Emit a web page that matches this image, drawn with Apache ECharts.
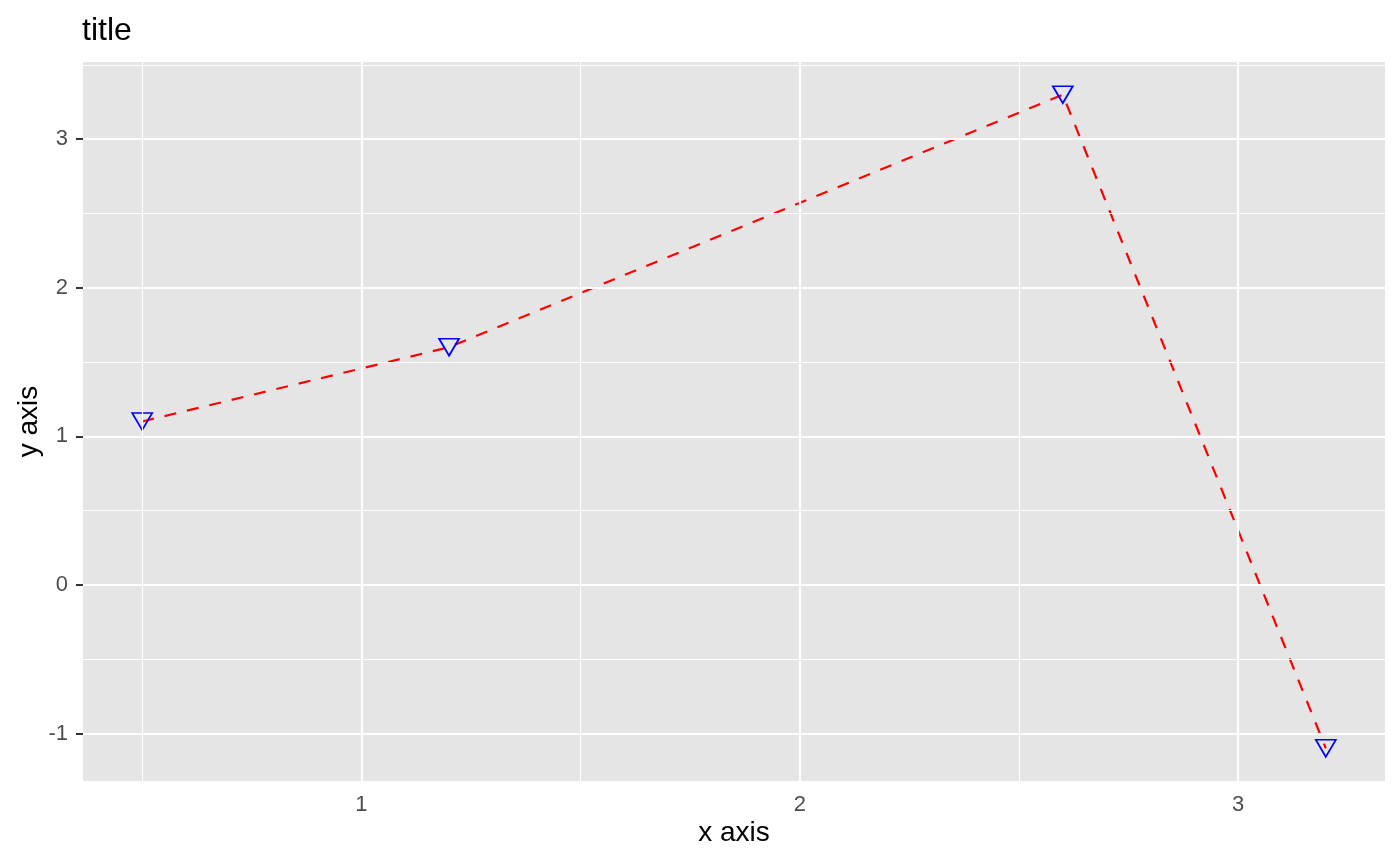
<!DOCTYPE html>
<html>
<head>
<meta charset="utf-8">
<script src="https://cdn.jsdelivr.net/npm/echarts@6/dist/echarts.min.js"></script>
<style>
html,body{margin:0;padding:0;background:#fff;}
#chart{width:1400px;height:865px;}
</style>
</head>
<body>
<div id="chart"></div>
<script>
// ---- data ----
const xValues = [0.5, 1.2, 2.6, 3.2];
const yValues = [1.1, 1.6, 3.3, -1.1];
const xMajorTicks = [1, 2, 3];
const xMinorTicks = [0.5, 1.5, 2.5];
const yMajorTicks = [-1, 0, 1, 2, 3];
const yMinorTicks = [-0.5, 0.5, 1.5, 2.5, 3.5];
const titleText = 'title';
const xAxisTitle = 'x axis';
const yAxisTitle = 'y axis';

// ggplot-like 5% expansion
const xr = Math.max(...xValues) - Math.min(...xValues);
const yr = Math.max(...yValues) - Math.min(...yValues);
const xMin = Math.min(...xValues) - 0.05 * xr, xMax = Math.max(...xValues) + 0.05 * xr;
const yMin = Math.min(...yValues) - 0.05 * yr, yMax = Math.max(...yValues) + 0.05 * yr;

const FONT = 'Liberation Sans, Arial, Helvetica, sans-serif';

const gridLines = [];
xMinorTicks.forEach(v => gridLines.push({xAxis: v, lineStyle: {width: 1.1}}));
yMinorTicks.forEach(v => gridLines.push({yAxis: v, lineStyle: {width: 1.1}}));
xMajorTicks.forEach(v => gridLines.push({xAxis: v, lineStyle: {width: 2.2}}));
yMajorTicks.forEach(v => gridLines.push({yAxis: v, lineStyle: {width: 2.2}}));

const chart = echarts.init(document.getElementById('chart'), null, {renderer: 'canvas'});
chart.setOption({
  animation: false,
  backgroundColor: '#ffffff',
  title: {
    text: titleText,
    left: 82, top: 15, padding: 0,
    textStyle: {fontFamily: FONT, fontSize: 32, fontWeight: 'normal', color: '#000000'}
  },
  grid: {
    left: 83, right: 15, top: 62, bottom: 84,
    show: true, backgroundColor: '#E5E5E5', borderWidth: 0
  },
  xAxis: {
    type: 'value', min: xMin, max: xMax,
    name: xAxisTitle, nameLocation: 'middle', nameGap: 38, nameMoveOverlap: false,
    nameTextStyle: {fontFamily: FONT, fontSize: 28, color: '#000000'},
    axisLine: {show: false},
    axisTick: {show: true, customValues: xMajorTicks, length: 7, lineStyle: {color: '#333333', width: 2}},
    axisLabel: {customValues: xMajorTicks, fontFamily: FONT, fontSize: 22, color: '#4D4D4D', margin: 13},
    splitLine: {show: false}
  },
  yAxis: {
    type: 'value', min: yMin, max: yMax,
    name: yAxisTitle, nameLocation: 'middle', nameGap: 40, nameRotate: 90, nameMoveOverlap: false,
    nameTextStyle: {fontFamily: FONT, fontSize: 28, color: '#000000'},
    axisLine: {show: false},
    axisTick: {show: true, customValues: yMajorTicks, length: 7, lineStyle: {color: '#333333', width: 2}},
    axisLabel: {customValues: yMajorTicks, fontFamily: FONT, fontSize: 22, color: '#4D4D4D', margin: 15},
    splitLine: {show: false}
  },
  series: [
    {
      type: 'line', data: [], z: 1, silent: true,
      markLine: {
        silent: true, symbol: ['none', 'none'], label: {show: false},
        lineStyle: {color: '#FFFFFF', type: 'solid'},
        emphasis: {disabled: true},
        animation: false,
        data: gridLines
      }
    },
    {
      type: 'line', z: 3,
      data: xValues.map((x, i) => [x, yValues[i]]),
      symbol: 'triangle', symbolRotate: 180, symbolSize: [20, 17],
      itemStyle: {color: 'rgba(0,0,0,0)', borderColor: '#0000FF', borderWidth: 1.7},
      lineStyle: {color: '#FF0000', width: 2.2, type: [12, 11]},
      emphasis: {disabled: true}
    }
  ]
});
</script>
</body>
</html>
